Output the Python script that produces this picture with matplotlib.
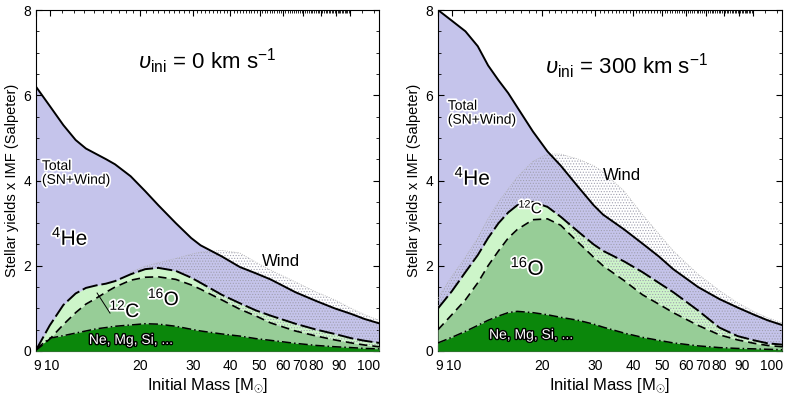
import numpy as np
import matplotlib.pyplot as plt
import matplotlib.patheffects as pe
from matplotlib.ticker import FixedLocator, FixedFormatter, NullFormatter
from matplotlib.transforms import ScaledTranslation

plt.rcParams['font.family'] = ['Liberation Sans', 'DejaVu Sans']
plt.rcParams['mathtext.fontset'] = 'custom'
plt.rcParams['mathtext.rm'] = 'Liberation Sans'
plt.rcParams['mathtext.it'] = 'Liberation Sans:italic'
plt.rcParams['hatch.linewidth'] = 0.5

mass = [9, 10, 11.1, 12.2, 13.2, 14.3, 15.4, 16.5, 18.6, 20.8, 23, 26.3, 29.6, 31.8, 37.4, 43, 48.7, 54.4,
        65.8, 77.4, 89, 101, 112, 125]

# v_ini = 0 km/s
total_0 = [6.2, 5.75, 5.3, 4.95, 4.75, 4.62, 4.5, 4.38, 4.1, 3.75, 3.42, 3.0, 2.65, 2.48, 2.22, 1.97, 1.82, 1.68, 1.38, 1.17, 1.0, 0.87, 0.75, 0.65]
c12_0 = [0.02, 0.6, 1.08, 1.35, 1.48, 1.54, 1.58, 1.64, 1.8, 1.92, 1.95, 1.88, 1.72, 1.6, 1.32, 1.12, 0.95, 0.83, 0.64, 0.5, 0.4, 0.3, 0.24, 0.19]
o16_0 = [0.02, 0.28, 0.62, 0.9, 1.1, 1.24, 1.38, 1.5, 1.66, 1.73, 1.74, 1.68, 1.55, 1.45, 1.2, 0.98, 0.82, 0.66, 0.47, 0.35, 0.26, 0.19, 0.14, 0.1]
ne_0 = [0.05, 0.3, 0.36, 0.42, 0.47, 0.52, 0.55, 0.58, 0.61, 0.64, 0.63, 0.58, 0.51, 0.47, 0.4, 0.35, 0.29, 0.25, 0.18, 0.13, 0.1, 0.08, 0.06, 0.05]
wind_m_0 = [18.6, 20.8, 23, 26.3, 29.6, 31.8, 37.4, 43, 48.7, 54.4, 65.8, 77.4, 89, 101, 112, 125]
wind_hi_0 = [1.85, 1.99, 2.07, 2.17, 2.27, 2.32, 2.36, 2.3, 2.08, 1.9, 1.62, 1.38, 1.2, 1.0, 0.85, 0.72]
wind_lo_0 = [1.8, 1.92, 1.95, 1.86, 1.7, 1.55, 1.2, 0.95, 0.78, 0.64, 0.46, 0.34, 0.25, 0.18, 0.13, 0.1]

# v_ini = 300 km/s
total_300 = [8.0, 7.75, 7.5, 7.15, 6.7, 6.35, 6.05, 5.72, 5.15, 4.68, 4.35, 3.85, 3.42, 3.2, 2.85, 2.52, 2.22, 1.92, 1.5, 1.22, 1.02, 0.85, 0.72, 0.61]
c12_300 = [1.0, 1.4, 1.85, 2.25, 2.65, 3.0, 3.25, 3.42, 3.5, 3.38, 3.15, 2.8, 2.5, 2.35, 2.1, 1.85, 1.6, 1.38, 0.95, 0.55, 0.35, 0.25, 0.18, 0.15]
o16_300 = [0.5, 0.85, 1.2, 1.6, 2.0, 2.35, 2.65, 2.85, 3.08, 3.1, 2.95, 2.55, 2.2, 2.0, 1.65, 1.32, 1.1, 0.9, 0.6, 0.38, 0.26, 0.18, 0.13, 0.1]
ne_300 = [0.19, 0.32, 0.46, 0.6, 0.72, 0.82, 0.9, 0.93, 0.9, 0.85, 0.79, 0.72, 0.63, 0.56, 0.42, 0.32, 0.25, 0.19, 0.12, 0.08, 0.06, 0.05, 0.04, 0.03]
wind_m_300 = mass
wind_hi_300 = [1.25, 1.75, 2.2, 2.65, 3.1, 3.5, 3.8, 4.08, 4.45, 4.62, 4.62, 4.5, 4.35, 4.2, 3.75, 3.2, 2.75, 2.35, 1.8, 1.42, 1.13, 0.92, 0.78, 0.66]
wind_lo_300 = [1.0, 1.4, 1.85, 2.25, 2.65, 3.0, 3.25, 3.42, 3.5, 3.38, 3.15, 2.6, 2.25, 2.05, 1.7, 1.36, 1.12, 0.92, 0.62, 0.4, 0.27, 0.19, 0.14, 0.11]

xticks = [9, 10, 20, 30, 40, 50, 60, 70, 80, 90, 100]
# the printed labels near the crowded right end are nudged sideways (pixels)
xlabel_shift = [1, 2, 0, 0, 0, 0, 0, -3, -5, 3, 19]
minor_x = list(range(9, 101)) + [110, 120]

c_he = '#c5c4eb'
c_c = '#cdf5c9'
c_o = '#97cd97'
c_ne = '#0b870b'

fig = plt.figure(figsize=(7.85, 3.99), dpi=100)
ax1 = fig.add_axes([36/785, 48/399, 343/785, 341/399])
ax2 = fig.add_axes([438/785, 48/399, 344/785, 341/399])

halo = [pe.withStroke(linewidth=2.5, foreground='white')]
dark = [pe.withStroke(linewidth=2, foreground='black')]


def panel(ax, total, c12, o16, ne, wm, whi, wlo):
    ax.fill_between(mass, 0, total, color=c_he, lw=0, zorder=1)
    ax.fill_between(mass, 0, c12, color=c_c, lw=0, zorder=2)
    ax.fill_between(mass, 0, o16, color=c_o, lw=0, zorder=3)
    ax.fill_between(mass, 0, ne, color=c_ne, lw=0, zorder=4)
    ax.fill_between(wm, wlo, whi, facecolor='none', edgecolor='#a0a0b0', hatch='......', lw=0, zorder=5)
    ax.plot(wm, whi, color='#b0b0b0', lw=0.6, ls=':', zorder=5)
    ax.plot(mass, total, color='black', lw=1.4, zorder=6)
    ax.plot(mass, c12, color='black', lw=1.4, ls=(0, (8, 2)), zorder=6)
    ax.plot(mass, o16, color='black', lw=1.2, ls=(0, (5, 3)), zorder=6)
    ax.plot(mass, ne, color='black', lw=1.1, ls=(0, (6, 2, 1, 2)), zorder=6)

    ax.set_xscale('log')
    ax.set_xlim(9, 125)
    ax.set_ylim(0, 8)
    ax.xaxis.set_major_locator(FixedLocator(xticks))
    ax.xaxis.set_minor_locator(FixedLocator(minor_x))
    ax.xaxis.set_major_formatter(FixedFormatter([str(t) for t in xticks]))
    ax.xaxis.set_minor_formatter(NullFormatter())
    ax.set_yticks([0, 2, 4, 6, 8])
    ax.set_yticks(np.arange(0, 8.01, 0.5), minor=True)
    ax.tick_params(which='both', direction='in', top=True, right=True, labelsize=10)
    ax.tick_params(which='major', length=4, width=0.8)
    ax.tick_params(which='minor', length=2, width=0.6)
    ax.tick_params(axis='x', which='major', pad=6)
    ax.set_xlabel(r'Initial Mass [M$_{\odot}$]', fontsize=12, labelpad=2)
    ax.set_ylabel('Stellar yields x IMF (Salpeter)', fontsize=10.5, labelpad=3)
    for s in ax.spines.values():
        s.set_linewidth(0.8)
    for lbl, dx in zip(ax.get_xticklabels(), xlabel_shift):
        lbl.set_transform(lbl.get_transform() + ScaledTranslation(dx / 100, 0, fig.dpi_scale_trans))


panel(ax1, total_0, c12_0, o16_0, ne_0, wind_m_0, wind_hi_0, wind_lo_0)
panel(ax2, total_300, c12_300, o16_300, ne_300, wind_m_300, wind_hi_300, wind_lo_300)

# labels, left
ax1.text(0.50, 0.85, r'$\upsilon_{\rm ini}$ = 0 km s$^{-1}$', transform=ax1.transAxes,
         ha='center', va='center', fontsize=16, zorder=10)
ax1.text(9.42, 4.18, 'Total\n(SN+Wind)', ha='left', va='center', fontsize=10,
         linespacing=1.0, path_effects=halo, zorder=10)
ax1.text(10.16, 2.65, r'$^{4}$He', ha='left', va='center', fontsize=15, path_effects=halo, zorder=10)
ax1.text(58.8, 2.11, 'Wind', ha='center', va='center', fontsize=12, zorder=10)
ax1.text(24.0, 1.24, r'$^{16}$O', ha='center', va='center', fontsize=14, path_effects=halo, zorder=10)
ax1.text(17.8, 0.96, r'$^{12}$C', ha='center', va='center', fontsize=14, path_effects=halo, zorder=10)
ax1.plot([14.38, 15.88], [1.36, 0.89], color='black', lw=0.7, zorder=9)
ax1.text(18.6, 0.26, 'Ne, Mg, Si, ...', ha='center', va='center', fontsize=10,
         color='white', path_effects=dark, zorder=10)

# labels, right
ax2.text(0.547, 0.836, r'$\upsilon_{\rm ini}$ = 300 km s$^{-1}$', transform=ax2.transAxes,
         ha='center', va='center', fontsize=16, zorder=10)
ax2.text(9.7, 5.59, 'Total\n(SN+Wind)', ha='left', va='center', fontsize=10,
         linespacing=1.0, path_effects=halo, zorder=10)
ax2.text(10.2, 4.06, r'$^{4}$He', ha='left', va='center', fontsize=15, path_effects=halo, zorder=10)
ax2.text(36.7, 4.11, 'Wind', ha='center', va='center', fontsize=12, zorder=10)
ax2.text(18.3, 3.38, r'$^{12}$C', ha='center', va='center', fontsize=11, path_effects=halo, zorder=10)
ax2.text(17.86, 1.95, r'$^{16}$O', ha='center', va='center', fontsize=15, path_effects=halo, zorder=10)
ax2.text(18.3, 0.38, 'Ne, Mg, Si, ...', ha='center', va='center', fontsize=10,
         color='white', path_effects=dark, zorder=10)

fig.savefig('out.png', dpi=100)
